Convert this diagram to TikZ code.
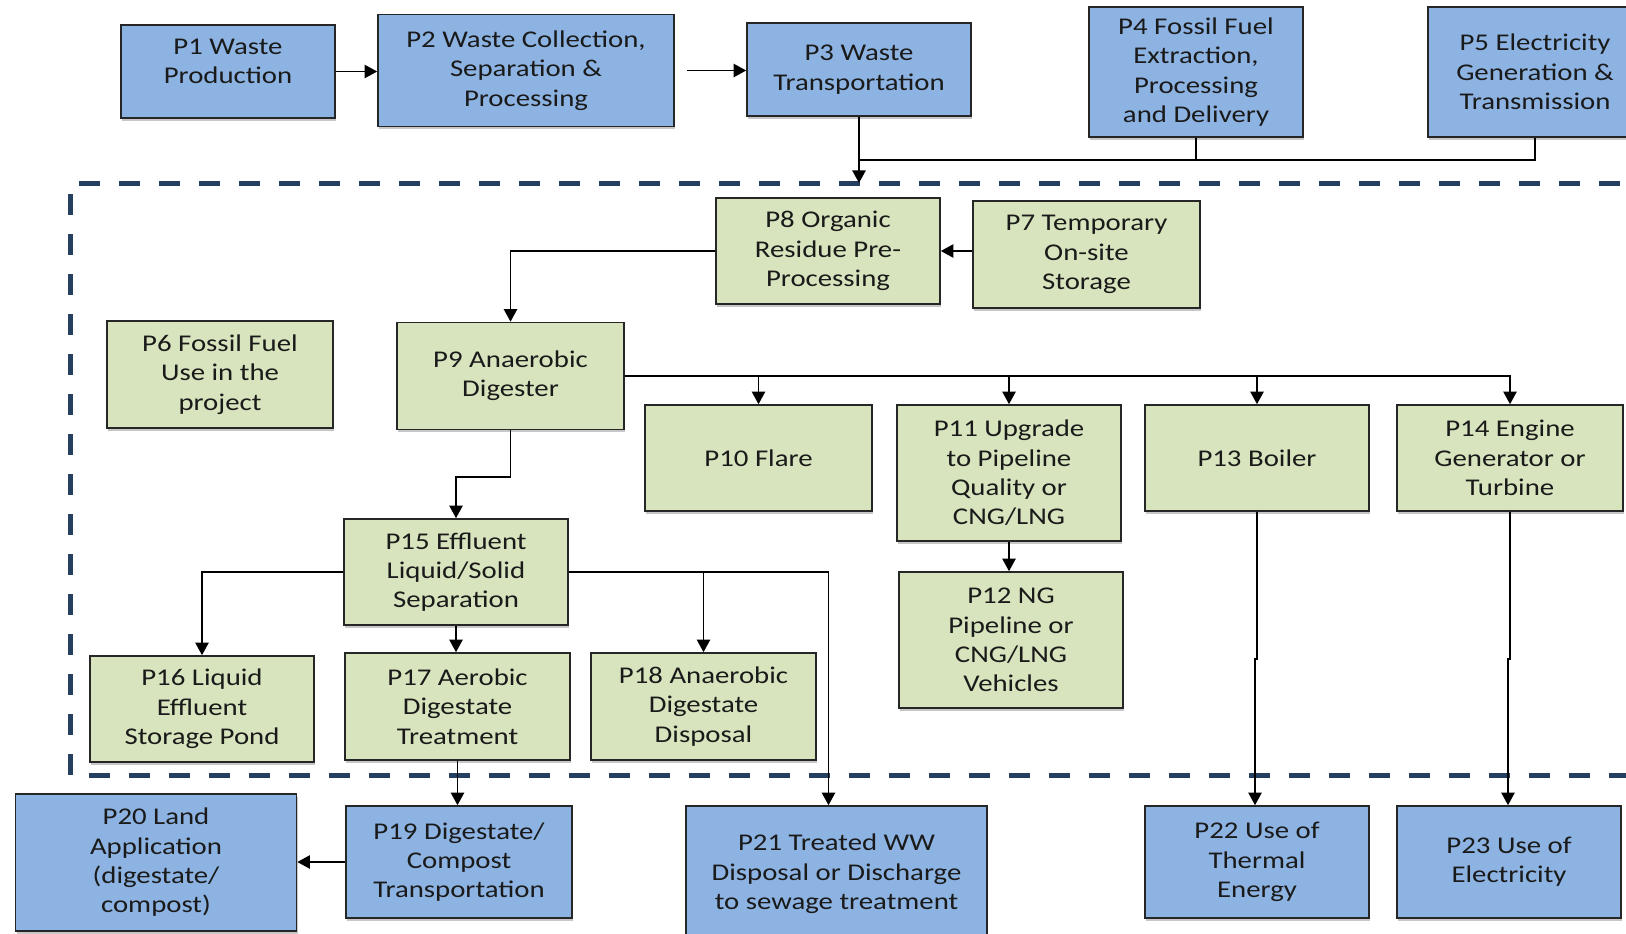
\documentclass[tikz,border=0pt]{standalone}
\usepackage{fontspec}
\setmainfont{Carlito}[FakeStretch=1.2]
\usetikzlibrary{arrows.meta,shadows,calc}
\definecolor{boxblue}{HTML}{8DB3E2}
\definecolor{boxgreen}{HTML}{D7E4BD}
\definecolor{zoneline}{HTML}{243F60}
\definecolor{ink}{HTML}{1A1A1A}
\tikzset{
  box/.style={draw=black!85, line width=1.2pt, align=center, inner sep=0pt,
    text=ink, font=\fontsize{18}{22}\selectfont,
    drop shadow={shadow xshift=1pt, shadow yshift=-2pt, opacity=0.22, fill=black}},
  sz/.style 2 args={minimum width=#1*0.75pt, minimum height=#2*0.75pt},
  bluebox/.style={box, fill=boxblue},
  greenbox/.style={box, fill=boxgreen},
  link/.style={line width=1.35pt, black},
  arr/.style={link, -{Triangle[length=9.5pt,width=10pt]}},
  zone/.style={draw=zoneline, line width=3.5pt, dash pattern=on 16pt off 14pt}
}
\begin{document}
\begin{tikzpicture}[x=0.75pt, y=-0.75pt]
  \useasboundingbox (0,0) rectangle (1626,933);
  \clip (0,0) rectangle (1626,933);

  % project boundary
  \draw[zone] (1700,183.5) -- (70.5,183.5) -- (70.5,775.5) -- (1700,775.5);

  % upstream processes
  \node[bluebox, sz={214}{93}]  (P1) at (228,71.5) {P1 Waste\\Production\\[-7pt]\mbox{}};
  \node[bluebox, sz={296}{112}] (P2) at (526,70.5) {P2 Waste Collection,\\Separation \&\\Processing};
  \node[bluebox, sz={224}{93}]  (P3) at (859,69.5) {P3 Waste\\Transportation};
  \node[bluebox, sz={214}{130}] (P4) at (1196,72) {P4 Fossil Fuel\\Extraction,\\Processing\\and Delivery};
  \node[bluebox, sz={214}{130}] (P5) at (1535,72) {P5 Electricity\\Generation \&\\Transmission};

  % on-site processes
  \node[greenbox, sz={224}{106}] (P8) at (828,251) {P8 Organic\\Residue Pre-\\Processing};
  \node[greenbox, sz={227}{107}] (P7) at (1086.5,254.5) {P7 Temporary\\On-site\\Storage};
  \node[greenbox, sz={226}{107}] (P6) at (220,374.5) {P6 Fossil Fuel\\Use in the\\project};
  \node[greenbox, sz={227}{107}] (P9) at (510.5,376) {P9 Anaerobic\\Digester};
  \node[greenbox, sz={227}{106}] (P10) at (758.5,458) {P10 Flare};
  \node[greenbox, sz={224}{136}] (P11) at (1009,473) {P11 Upgrade\\to Pipeline\\Quality or\\CNG/LNG};
  \node[greenbox, sz={224}{106}] (P13) at (1257,458) {P13 Boiler};
  \node[greenbox, sz={226}{106}] (P14) at (1510,458) {P14 Engine\\Generator or\\Turbine};
  \node[greenbox, sz={224}{136}] (P12) at (1011,640) {P12 NG\\Pipeline or\\CNG/LNG\\Vehicles};
  \node[greenbox, sz={224}{106}] (P15) at (456,572) {P15 Effluent\\Liquid/Solid\\Separation};
  \node[greenbox, sz={224}{106}] (P16) at (202,709) {P16 Liquid\\Effluent\\Storage Pond};
  \node[greenbox, sz={225}{107}] (P17) at (457.5,706.5) {P17 Aerobic\\Digestate\\Treatment};
  \node[greenbox, sz={225}{107}] (P18) at (703.5,706.5) {P18 Anaerobic\\Digestate\\Disposal};

  % downstream processes
  \node[bluebox, sz={226}{112}] (P19) at (459,862) {P19 Digestate/\\Compost\\Transportation};
  \node[bluebox, sz={281}{137}] (P20) at (156,862.5) {P20 Land\\Application\\(digestate/\\compost)};
  \node[bluebox, sz={301}{136}] (P21) at (836.5,874) {P21 Treated WW\\Disposal or Discharge\\to sewage treatment};
  \node[bluebox, sz={224}{112}] (P22) at (1257,862) {P22 Use of\\Thermal\\Energy};
  \node[bluebox, sz={224}{112}] (P23) at (1509,862) {P23 Use of\\Electricity};

  % waste chain into the project
  \draw[arr] (P1.east) -- (P1.east -| P2.west);
  \draw[arr, shorten <=9pt] (P2.east) -- (P2.east -| P3.west);
  \coordinate (inlet) at (859,183);
  \coordinate (bus) at (859,160);
  \draw[arr] (P3.south) -- (inlet);
  \draw[link] (P4.south) |- (bus);
  \draw[link] (P5.south) |- (bus);

  % pre-processing and digestion
  \draw[arr] (P7.west |- P8.west) -- (P8.east);
  \draw[arr] (P8.west) -| (P9.north);
  \draw[arr] (P9.east) -| (P10.north);
  \draw[arr] (P9.east) -| (P11.north);
  \draw[arr] (P9.east) -| (P13.north);
  \draw[arr] (P9.east) -| (P14.north);
  \draw[arr] (P11.south) -- (P11.south |- P12.north);

  % digestate handling
  \draw[arr] (P9.south) -- ++(0,47) -| (P15.north);
  \draw[arr] (P15.west) -| (P16.north);
  \draw[arr] (P15.south) -- (P15.south |- P17.north);
  \draw[arr] (P15.east) -| (P18.north);
  \draw[arr] (P15.east) -| ($(P21.north)+(-8,0)$);
  \draw[arr] (P17.south) -- (P17.south |- P19.north);
  \draw[arr] (P19.west) -- (P19.west -| P20.east);

  % energy use
  \draw[arr] (P13.south) -- ++(0,147) -- ++(-2,0) -- ($(P22.north)+(-2,0)$);
  \draw[arr] (P14.south) -- ++(0,147) -- ++(-2,0) -- ($(P23.north)+(-1,0)$);
\end{tikzpicture}
\end{document}
